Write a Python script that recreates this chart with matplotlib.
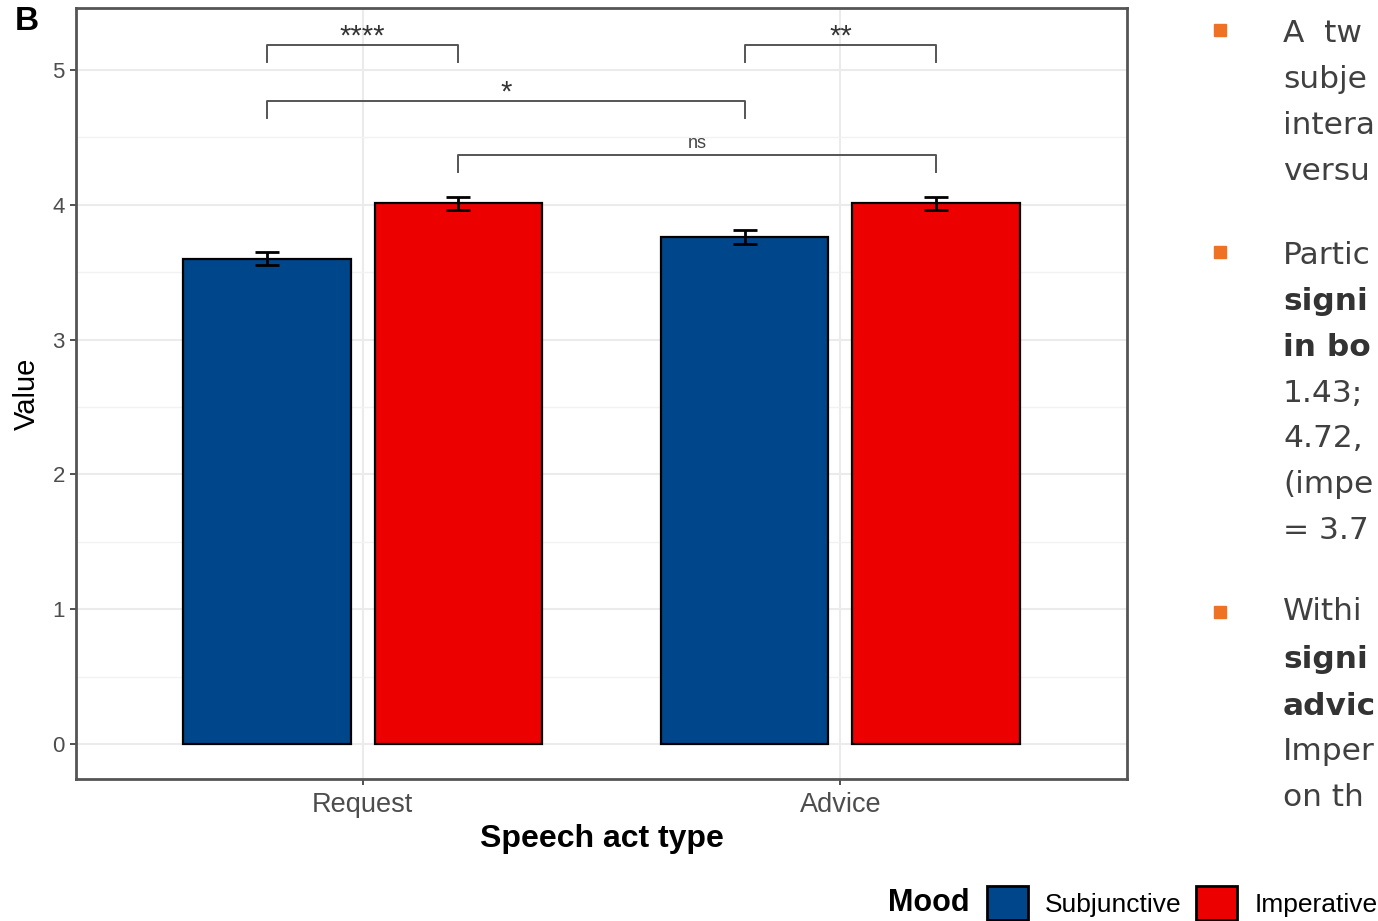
import numpy as np
import matplotlib.pyplot as plt
from matplotlib.patches import Patch, Rectangle

# mean ratings by speech act and mood
speech_acts = ['Request', 'Advice']
moods = ['Subjunctive', 'Imperative']
subjunctive_mean = [3.60, 3.76]
imperative_mean = [4.01, 4.01]
subjunctive_se = [0.05, 0.05]
imperative_se = [0.05, 0.05]

# pairwise comparisons: (group a, mood a), (group b, mood b), bracket height, label
comparisons = [
    ((0, 0), (0, 1), 5.185, '****'),
    ((1, 0), (1, 1), 5.185, '**'),
    ((0, 0), (1, 0), 4.77, '*'),
    ((0, 1), (1, 1), 4.37, 'ns'),
]

# bullet text on the right of the figure
notes = [
    ('A  tw', 'normal', 33),
    ('subje', 'normal', 79),
    ('intera', 'normal', 125),
    ('versu', 'normal', 171),
    ('Partic', 'normal', 256),
    ('signi', 'bold', 302),
    ('in bo', 'bold', 347),
    ('1.43;', 'normal', 393),
    ('4.72,', 'normal', 438),
    ('(impe', 'normal', 484),
    ('= 3.7', 'normal', 530),
    ('Withi', 'normal', 612),
    ('signi', 'bold', 660),
    ('advic', 'bold', 706),
    ('Imper', 'normal', 751),
    ('on th', 'normal', 797),
]
bullet_rows = [30, 252, 612]

colors = ['#00468B', '#ED0000']
W, H = 1378, 921

plt.rcParams['font.family'] = ['Liberation Sans', 'DejaVu Sans']
fig = plt.figure(figsize=(13.78, 9.21), dpi=100)
ax = fig.add_axes([76 / W, 1 - 779 / H, (1127 - 76) / W, (779 - 8) / H])

x = np.arange(len(speech_acts))
offset = 0.2
width = 0.35
means = [subjunctive_mean, imperative_mean]
ses = [subjunctive_se, imperative_se]
for k in range(2):
    xs = x + (k - 0.5) * 2 * offset
    ax.bar(xs, means[k], width=width, color=colors[k], edgecolor='black',
           linewidth=1.6, zorder=3)
    ax.errorbar(xs, means[k], yerr=ses[k], fmt='none', ecolor='black',
                elinewidth=2, capsize=8.5, capthick=2, zorder=4)

for (ga, ma), (gb, mb), yb, lab in comparisons:
    xa = ga + (ma - 0.5) * 2 * offset
    xb = gb + (mb - 0.5) * 2 * offset
    ax.plot([xa, xa, xb, xb], [yb - 0.125, yb, yb, yb - 0.125],
            color='#555555', lw=1.4, zorder=5)
    if lab == 'ns':
        ax.text((xa + xb) / 2, yb + 0.05, lab, ha='center', va='baseline',
                fontsize=13, color='#444444')
    else:
        ax.text((xa + xb) / 2, yb + 0.005, lab, ha='center', va='baseline',
                fontsize=21, color='#333333')

ax.set_xlim(-0.6, 1.6)
ax.set_ylim(-0.26, 5.46)
ax.set_xticks(x)
ax.set_xticklabels(speech_acts)
ax.set_yticks(np.arange(0, 6))
ax.set_yticks(np.arange(0.5, 5.5, 1), minor=True)
ax.grid(which='major', color='#EBEBEB', lw=1.5, zorder=0)
ax.grid(which='minor', axis='y', color='#F2F2F2', lw=1.0, zorder=0)
ax.set_axisbelow(True)
ax.tick_params(axis='both', which='major', length=4, width=1.2, color='#333333',
               labelcolor='#4D4D4D', labelsize=19.5, pad=5.5)
ax.tick_params(axis='y', labelsize=16, pad=4)
ax.tick_params(which='minor', length=0)
for s in ax.spines.values():
    s.set_color('#555555')
    s.set_linewidth(2)

ax.set_xlabel('Speech act type', fontsize=23, fontweight='bold', labelpad=4)
ax.set_ylabel('Value', fontsize=21, labelpad=8)

fig.text(15 / W, 1 - 21 / H, 'B', fontsize=24, fontweight='bold', va='center')

# legend along the bottom edge
fig.text(888 / W, 1 - 903 / H, 'Mood', fontsize=22, fontweight='bold', va='center')
handles = [Patch(facecolor=c, edgecolor='black', linewidth=2) for c in colors]
fig.legend(handles, moods, loc='center left', bbox_to_anchor=(987 / W, 1 - 903 / H),
           ncol=2, frameon=False, fontsize=19, handlelength=1.55, handleheight=1.6,
           handletextpad=0.65, columnspacing=0.55, borderpad=0, borderaxespad=0)

# bullet notes
for yb in bullet_rows:
    fig.patches.append(Rectangle((1214 / W, 1 - (yb + 6) / H), 12 / W, 12 / H,
                                 transform=fig.transFigure, color='#EE7124'))
for line, weight, yc in notes:
    fig.text(1283 / W, 1 - yc / H, line, fontsize=22.5, fontweight=weight,
             color='#333333' if weight == 'bold' else '#404040',
             va='center', ha='left', family=['DejaVu Sans'])

fig.savefig('out.png', dpi=100)
